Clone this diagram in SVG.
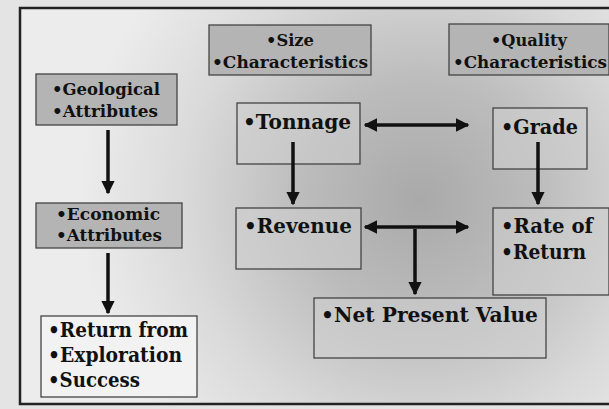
<svg xmlns="http://www.w3.org/2000/svg" width="609" height="409" viewBox="0 0 609 409">
<defs>
<radialGradient id="bg" cx="420" cy="200" r="340" gradientUnits="userSpaceOnUse">
<stop offset="0" stop-color="#a9a9a9"/>
<stop offset="0.35" stop-color="#bcbcbc"/>
<stop offset="0.7" stop-color="#dadada"/>
<stop offset="1" stop-color="#ececec"/>
</radialGradient>
<marker id="ah" viewBox="0 0 10 10" refX="9" refY="5" markerWidth="3.8" markerHeight="3.8" orient="auto-start-reverse" markerUnits="strokeWidth">
<path d="M0,0 L10,5 L0,10 z" fill="#111"/>
</marker>
</defs>
<style>
.t{font-family:"DejaVu Serif","Liberation Serif",serif;font-weight:bold;fill:#111}
.s{font-size:16.5px}
.b{font-size:20px}
.hdr{fill:#b4b4b4;stroke:#444;stroke-width:1.3}
.box{fill:#cfcfcf;fill-opacity:0.55;stroke:#444;stroke-width:1.3}
.wb{fill:#f2f2f2;stroke:#444;stroke-width:1.3}
.c{stroke:#111;stroke-width:3.5;fill:none}
</style>
<rect x="0" y="0" width="609" height="409" fill="#e4e4e4"/>
<rect x="20" y="8" width="595" height="396" fill="url(#bg)" stroke="#222" stroke-width="2.5"/>
<g id="size">
<rect class="hdr" x="209" y="25" width="162" height="50"/>
<text class="t s" x="290" y="46" text-anchor="middle" textLength="48" lengthAdjust="spacingAndGlyphs">•Size</text>
<text class="t s" x="290" y="68" text-anchor="middle" textLength="156" lengthAdjust="spacingAndGlyphs">•Characteristics</text>
</g>
<g id="quality">
<rect class="hdr" x="449" y="24" width="160" height="51"/>
<text class="t s" x="529" y="46" text-anchor="middle" textLength="76" lengthAdjust="spacingAndGlyphs">•Quality</text>
<text class="t s" x="453" y="68" textLength="154" lengthAdjust="spacingAndGlyphs">•Characteristics</text>
</g>
<g id="geological">
<rect class="hdr" x="36" y="74" width="141" height="51"/>
<text class="t s" x="52" y="95" textLength="108" lengthAdjust="spacingAndGlyphs">•Geological</text>
<text class="t s" x="52" y="117" textLength="106" lengthAdjust="spacingAndGlyphs">•Attributes</text>
</g>
<g id="economic">
<rect class="hdr" x="36" y="203" width="146" height="45"/>
<text class="t s" x="56" y="220" textLength="104" lengthAdjust="spacingAndGlyphs">•Economic</text>
<text class="t s" x="56" y="241" textLength="106" lengthAdjust="spacingAndGlyphs">•Attributes</text>
</g>
<g id="return">
<rect class="wb" x="41" y="316" width="156" height="81"/>
<text class="t b" x="48" y="337" textLength="140" lengthAdjust="spacingAndGlyphs">•Return from</text>
<text class="t b" x="48" y="362" textLength="134" lengthAdjust="spacingAndGlyphs">•Exploration</text>
<text class="t b" x="48" y="387" textLength="92" lengthAdjust="spacingAndGlyphs">•Success</text>
</g>
<g id="tonnage">
<rect class="box" x="237" y="103" width="123" height="61"/>
<text class="t b" x="243" y="129" textLength="108" lengthAdjust="spacingAndGlyphs">•Tonnage</text>
</g>
<g id="grade">
<rect class="box" x="493" y="108" width="94" height="61"/>
<text class="t b" x="501" y="134" textLength="77" lengthAdjust="spacingAndGlyphs">•Grade</text>
</g>
<g id="revenue">
<rect class="box" x="236" y="208" width="125" height="61"/>
<text class="t b" x="244" y="233" textLength="108" lengthAdjust="spacingAndGlyphs">•Revenue</text>
</g>
<g id="rate">
<rect class="box" x="493" y="208" width="116" height="87"/>
<text class="t b" x="501" y="233" textLength="92" lengthAdjust="spacingAndGlyphs">•Rate of</text>
<text class="t b" x="501" y="259" textLength="85" lengthAdjust="spacingAndGlyphs">•Return</text>
</g>
<g id="npv">
<rect class="box" x="314" y="298" width="232" height="60"/>
<text class="t b" x="321" y="322" textLength="217" lengthAdjust="spacingAndGlyphs">•Net Present Value</text>
</g>
<g id="connectors">
<path class="c" d="M108,130 V193" marker-end="url(#ah)"/>
<path class="c" d="M108,253 V313" marker-end="url(#ah)"/>
<path class="c" d="M293,142 V204" marker-end="url(#ah)"/>
<path class="c" d="M538,142 V204" marker-end="url(#ah)"/>
<path class="c" d="M365,125 H468" marker-start="url(#ah)" marker-end="url(#ah)"/>
<path class="c" d="M365,227 H468" marker-start="url(#ah)" marker-end="url(#ah)"/>
<path class="c" d="M415,229 V294" marker-end="url(#ah)"/>
</g>
</svg>
